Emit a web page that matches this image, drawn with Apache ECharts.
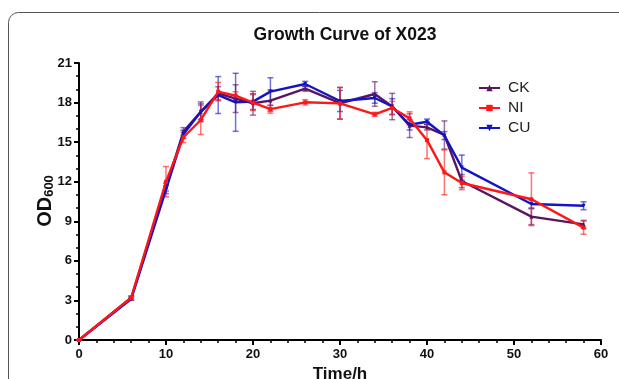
<!DOCTYPE html>
<html><head><meta charset="utf-8">
<script src="https://cdn.jsdelivr.net/npm/echarts@6/dist/echarts.min.js"></script>
<style>html,body{margin:0;padding:0;background:#fff}#c{width:619px;height:379px}</style>
</head><body><div id="c"></div>
<script>
const times = [0, 6, 10, 12, 14, 16, 18, 20, 22, 26, 30, 34, 36, 38, 40, 42, 44, 52, 58];
const ckMean = [0, 3.2, 11.6, 15.8, 17.3, 18.7, 18.3, 17.95, 18.15, 19.05, 17.95, 18.65, 17.7, 16.25, 16.12, 15.54, 12.05, 9.35, 8.77];
const ckErr  = [0, 0.1, 0.3, 0.3, 0.75, 0.5, 1.05, 0.9, 0.8, 0.2, 1.2, 0.93, 1.0, 0.9, 0.2, 1.07, 0.5, 0.6, 0.3];
const niMean = [0, 3.2, 12.0, 15.37, 16.68, 18.83, 18.52, 18.0, 17.5, 18.02, 17.94, 17.11, 17.59, 16.8, 15.15, 12.71, 11.9, 10.67, 8.52];
const niErr  = [0, 0.15, 1.15, 0.4, 1.1, 0.7, 0.3, 0.6, 0.3, 0.2, 1.2, 0.15, 0.5, 0.5, 1.4, 1.7, 0.5, 2.0, 0.5];
const cuMean = [0, 3.1, 11.4, 15.6, 17.3, 18.57, 18.02, 18.07, 18.83, 19.41, 18.12, 18.35, 17.7, 16.32, 16.55, 15.5, 13.07, 10.31, 10.18];
const cuErr  = [0, 0.1, 0.3, 0.3, 0.6, 1.4, 2.2, 0.6, 1.05, 0.2, 0.8, 0.4, 0.6, 0.4, 0.2, 0.3, 0.95, 0.3, 0.3];
const seriesNames = ['CK', 'NI', 'CU'];
const xTicks = [0, 10, 20, 30, 40, 50, 60];
const yTicks = [0, 3, 6, 9, 12, 15, 18, 21];

const colors = {CK: '#5a1560', NI: '#ff1616', CU: '#1414c4'};
const errColors = {CK: 'rgba(90,21,96,0.6)', NI: 'rgba(255,22,22,0.6)', CU: 'rgba(20,20,196,0.6)'};
const symbols = {CK: 'triangle', NI: 'rect', CU: 'path://M0,0 L10,0 L5,10 Z'};

function pts(mean){ return times.map((t,i)=>[t, mean[i]]); }
function errs(mean, err){ return times.map((t,i)=>[t, mean[i]-err[i], mean[i]+err[i]]); }

function errSeries(name, mean, err){
  return {
    type: 'custom', name: name + 'err', z: 1,
    data: errs(mean, err),
    renderItem: function(params, api){
      const x = api.value(0);
      const lo = api.coord([x, api.value(1)]);
      const hi = api.coord([x, api.value(2)]);
      const w = 3;
      const st = {stroke: errColors[name], lineWidth: 1.5};
      return {type:'group', children:[
        {type:'line', shape:{x1:lo[0],y1:lo[1],x2:hi[0],y2:hi[1]}, style:st},
        {type:'line', shape:{x1:lo[0]-w,y1:lo[1],x2:lo[0]+w,y2:lo[1]}, style:st},
        {type:'line', shape:{x1:hi[0]-w,y1:hi[1],x2:hi[0]+w,y2:hi[1]}, style:st}
      ]};
    },
    silent: true
  };
}
function lineSeries(name, mean, z){
  return {
    type:'line', name:name, z: z, data: pts(mean),
    symbol: symbols[name], symbolSize: 4, showSymbol: true,
    lineStyle:{color: colors[name], width: 2.4},
    itemStyle:{color: colors[name]},
    animation:false
  };
}

const chart = echarts.init(document.getElementById('c'));
chart.setOption({
  animation: false,
  title: {text:'Growth Curve of X023', left: 340, top: 21, textAlign:'center',
    textStyle:{fontFamily:'Liberation Sans', fontWeight:'bold', fontSize:17.5, color:'#111'}},
  graphic: [
    {type:'rect', shape:{x:8.5, y:12.5, width:700, height:500, r:10},
      style:{fill:'none', stroke:'#555', lineWidth:1}, z:-1},
    {type:'text', x:45, y:201, rotation:Math.PI/2, z:10,
      style:{text:'OD{s|600}', align:'center', verticalAlign:'middle',
        fontFamily:'Liberation Sans', fontWeight:'bold', fontSize:20, fill:'#111',
        rich:{s:{fontFamily:'Liberation Sans', fontWeight:'bold', fontSize:13, fill:'#111', verticalAlign:'bottom', padding:[9,0,0,0]}}}}
  ],
  legend: {orient:'vertical', left: 473, top: 75, itemGap: 4, itemWidth: 21, itemHeight: 8,
    data: seriesNames,
    textStyle:{fontFamily:'Liberation Sans', fontSize:15.5, color:'#222', padding:[0,0,0,3]}},
  grid: {left:79, right:18, top:63, bottom:39, containLabel:false, outerBoundsMode:'none'},
  xAxis: {type:'value', min:0, max:60, interval:10,
    name:'Time/h', nameLocation:'middle', nameGap:24,
    nameTextStyle:{fontFamily:'Liberation Sans', fontWeight:'bold', fontSize:17, color:'#111'},
    axisLine:{lineStyle:{color:'#000', width:2}},
    axisTick:{show:true, length:5, lineStyle:{width:2, color:'#000'}},
    minorTick:{show:true, splitNumber:5, length:3, lineStyle:{width:1.5, color:'#000'}},
    axisLabel:{fontFamily:'Liberation Sans', fontWeight:'bold', fontSize:13, color:'#111', margin:8},
    splitLine:{show:false}},
  yAxis: {type:'value', min:0, max:21, interval:3,
    axisLine:{show:true, lineStyle:{color:'#000', width:2}},
    axisTick:{show:true, length:5, lineStyle:{width:2, color:'#000'}},
    minorTick:{show:true, splitNumber:3, length:3, lineStyle:{width:1.5, color:'#000'}},
    axisLabel:{fontFamily:'Liberation Sans', fontWeight:'bold', fontSize:13, color:'#111', margin:7},
    splitLine:{show:false}},
  series: [
    errSeries('CK', ckMean, ckErr),
    errSeries('CU', cuMean, cuErr),
    errSeries('NI', niMean, niErr),
    lineSeries('CK', ckMean, 3),
    lineSeries('CU', cuMean, 4),
    lineSeries('NI', niMean, 5)
  ]
});
</script></body></html>
